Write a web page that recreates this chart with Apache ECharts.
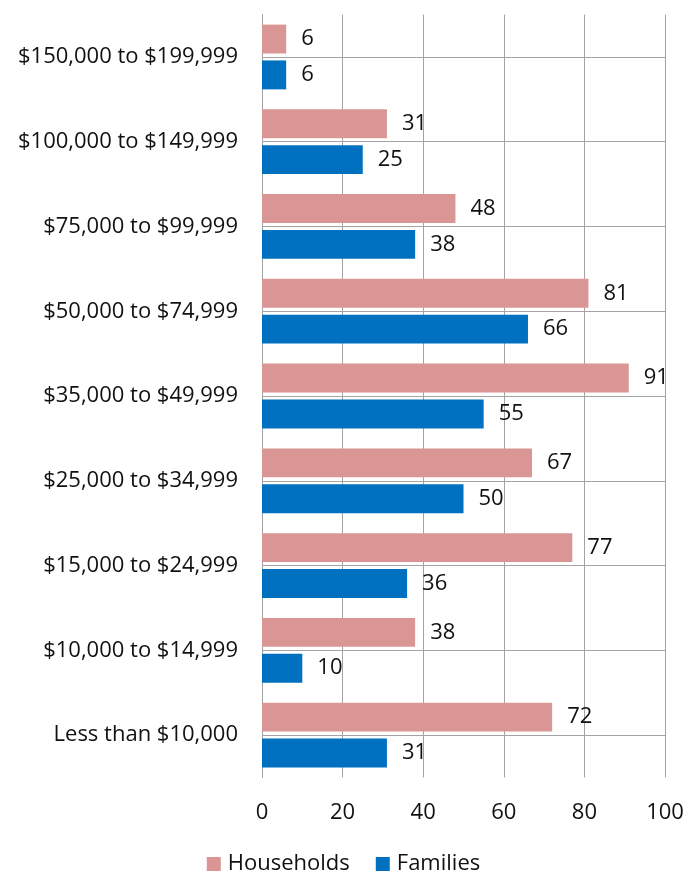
<!DOCTYPE html>
<html>
<head>
<meta charset="utf-8">
<script src="https://cdn.jsdelivr.net/npm/echarts@6/dist/echarts.min.js"></script>
<style>
  html, body { margin: 0; padding: 0; background: #fff; }
  #chart { width: 687px; height: 874px; }
</style>
</head>
<body>
<div id="chart"></div>
<script>
// Income brackets, listed from the bottom of the axis to the top
const categories = [
  'Less than $10,000',
  '$10,000 to $14,999',
  '$15,000 to $24,999',
  '$25,000 to $34,999',
  '$35,000 to $49,999',
  '$50,000 to $74,999',
  '$75,000 to $99,999',
  '$100,000 to $149,999',
  '$150,000 to $199,999'
];
const households = [72, 38, 77, 67, 91, 81, 48, 31, 6];
const families = [31, 10, 36, 50, 55, 66, 38, 25, 6];
const xTicks = { min: 0, max: 100, interval: 20 };

const FONT = '"Open Sans", "Noto Sans", sans-serif';
const GRID_COLOR = '#a3a3a3';

const chart = echarts.init(document.getElementById('chart'), null, { renderer: 'canvas' });

const valueLabel = {
  show: true,
  position: 'right',
  distance: 15,
  color: '#111',
  fontFamily: FONT,
  fontSize: 22
};

chart.setOption({
  animation: false,
  backgroundColor: '#fff',
  textStyle: { fontFamily: FONT },
  grid: { left: 262, right: 22, top: 14.6, bottom: 96.6, containLabel: false },
  legend: {
    data: ['Households', 'Families'],
    bottom: -6,
    left: 'center',
    itemWidth: 14,
    itemHeight: 14,
    itemGap: 26,
    icon: 'rect',
    textStyle: { fontFamily: FONT, fontSize: 22, color: '#111', padding: [0, 0, 0, 2] }
  },
  xAxis: {
    type: 'value',
    min: xTicks.min,
    max: xTicks.max,
    interval: xTicks.interval,
    axisLine: { show: false },
    axisTick: { show: false },
    splitLine: { show: true, lineStyle: { color: GRID_COLOR, width: 1 } },
    axisLabel: { fontFamily: FONT, fontSize: 22, color: '#111', margin: 24 }
  },
  yAxis: {
    type: 'category',
    data: categories,
    axisLine: { show: true, lineStyle: { color: GRID_COLOR, width: 1 } },
    axisTick: { show: false },
    splitLine: { show: false },
    axisLabel: { fontFamily: FONT, fontSize: 22, color: '#111', margin: 24 }
  },
  series: [
    {
      name: 'Households',
      type: 'bar',
      data: households,
      barGap: '24%',
      barCategoryGap: '23.6%',
      itemStyle: { color: '#d99694' },
      label: valueLabel,
      z: 3
    },
    {
      name: 'Families',
      type: 'bar',
      data: families,
      barGap: '24%',
      barCategoryGap: '23.6%',
      itemStyle: { color: '#0070c0' },
      label: valueLabel,
      z: 3
    },
    {
      // horizontal rules through the middle of each bracket
      name: 'bracketRules',
      type: 'line',
      data: [],
      silent: true,
      z: 1,
      markLine: {
        silent: true,
        symbol: 'none',
        label: { show: false },
        lineStyle: { color: GRID_COLOR, width: 1, type: 'solid' },
        data: categories.map(c => ({ yAxis: c }))
      }
    }
  ]
});
</script>
</body>
</html>
